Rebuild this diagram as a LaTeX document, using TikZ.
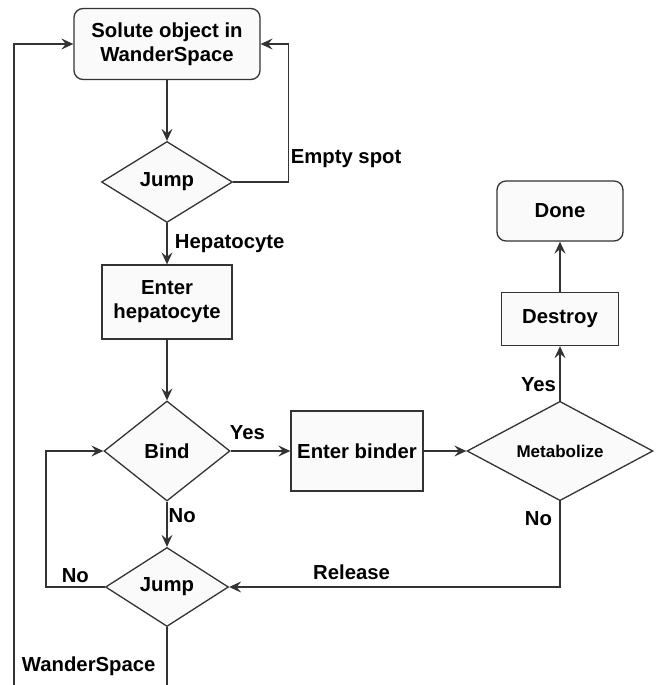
\documentclass[tikz,border=0pt]{standalone}
\usepackage{fontspec}
\setmainfont{Liberation Sans}
\usetikzlibrary{arrows.meta,shapes.geometric}

\begin{document}
\begin{tikzpicture}[x=1pt,y=1pt,->,>={Stealth[length=12pt,width=11pt,inset=4.5pt]},auto,node distance=120pt,
                    line width=1.3pt,color=black!80,text=black,
                    box node/.style={rectangle,draw,fill=gray!4,inner sep=4pt,align=center,
                                     font=\fontsize{20.3}{24}\selectfont\bfseries},
                    end node/.style={box node,rounded corners=9pt},
                    test node/.style={diamond,draw,fill=gray!4,inner sep=0pt,align=center,
                                      font=\fontsize{20.3}{24}\selectfont\bfseries},
                    lbl/.style={font=\fontsize{20.3}{24}\selectfont\bfseries}]
\useasboundingbox (0,0) rectangle (656,-685);
\clip (0,0) rectangle (656,-685);
%%%%%
\node[end node,minimum width=186pt,minimum height=71pt] (1) at (167,-44) {Solute object in\\WanderSpace};
  \node[test node,minimum width=131pt,minimum height=81pt] (2) [node distance=138pt,below of=1] {Jump};
  \node[box node,minimum width=130pt,minimum height=74pt] (3) [below of=2] {Enter\\hepatocyte};
  \node[test node,minimum width=126pt,minimum height=100pt] (4) [node distance=149pt,below of=3] {Bind};
  \node[test node,minimum width=123pt,minimum height=79pt] (5) [node distance=136pt,below of=4] {Jump};
 \node[box node,minimum width=132pt,minimum height=80pt] (6) [node distance=190pt,right of=4] {Enter binder};
 \node[test node,minimum width=186pt,minimum height=96pt,font=\fontsize{17}{20}\selectfont\bfseries] (7) [node distance=203pt,right of=6] {Metabolize};
  \node[box node,minimum width=117pt,minimum height=53pt] (8) [node distance=132pt,above of=7] {Destroy};
  \node[end node,minimum width=126pt,minimum height=60pt] (9) [node distance=108pt,above of=8] {Done};
\coordinate (c) at (14,-700);
  %%%%%%%
  \path[every node/.style={lbl}]
    (1) edge (2)
    (2) edge node[right,xshift=4pt] {Hepatocyte} (3)
    (3) edge (4)
    (4) edge node[above,pos=0.28,yshift=7pt] {Yes} (6)
        edge node[right,pos=0.3,inner sep=1pt] {No} (5)
    (6) edge (7)
    (7) edge node[left,pos=0.3] {Yes} (8)
    (8) edge (9);
  %%%%%%%
  \draw (2.east) -- ++(55,0) node[lbl,anchor=south west,yshift=12pt,inner sep=2pt] {Empty spot} |- (1.east);
  \draw (7.south) |- node[lbl,left,pos=0.1,xshift=-4pt] {No} node[lbl,above,pos=0.815,yshift=3pt] {Release} (5.east);
  \draw (5.west) -- node[lbl,above] {No} ++(-59,0) |- (4.west);
  \draw (5.south) |- (c) |- (1.west);
  \node[lbl,anchor=west] (w) at (18,-666) {WanderSpace};
\end{tikzpicture}
\end{document}
